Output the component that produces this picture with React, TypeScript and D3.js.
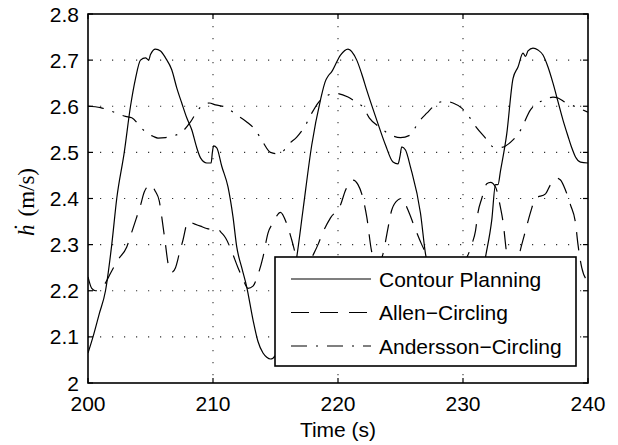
import React from "react";
import * as d3 from "d3";

// ---- data ----
const contourT = [200.0, 200.4, 200.9, 201.4, 201.9, 202.3, 202.9, 203.4, 203.8, 204.2, 204.6, 204.85, 205.0, 205.4, 205.8, 206.2, 206.7, 207.1, 207.5, 207.9, 208.3, 208.7, 209.0, 209.5, 209.85, 209.95, 210.05, 210.3, 210.7, 211.2, 211.6, 211.9, 212.3, 212.7, 213.2, 213.6, 214.0, 214.3, 214.6, 215.0, 215.4, 215.8, 216.3, 216.7, 217.2, 217.9, 218.6, 219.0, 219.2, 219.5, 220.2, 220.8, 221.5, 221.9, 222.3, 223.1, 223.8, 224.4, 224.8, 224.95, 225.1, 225.4, 225.8, 226.6, 227.0, 227.4, 227.8, 228.2, 228.7, 229.2, 229.6, 230.0, 230.4, 230.8, 231.3, 231.8, 232.3, 232.6, 232.8, 233.0, 233.5, 234.0, 234.4, 234.8, 235.0, 235.2, 235.6, 236.0, 236.4, 236.8, 237.2, 237.6, 238.0, 238.4, 238.7, 239.0, 239.4, 240.0];
const contourV = [2.065, 2.10, 2.15, 2.20, 2.30, 2.40, 2.50, 2.60, 2.66, 2.70, 2.705, 2.700, 2.712, 2.724, 2.72, 2.705, 2.679, 2.64, 2.607, 2.575, 2.549, 2.51, 2.488, 2.477, 2.477, 2.50, 2.514, 2.51, 2.47, 2.425, 2.36, 2.295, 2.25, 2.208, 2.137, 2.09, 2.065, 2.056, 2.052, 2.06, 2.09, 2.14, 2.21, 2.273, 2.375, 2.516, 2.614, 2.655, 2.665, 2.675, 2.711, 2.724, 2.70, 2.67, 2.635, 2.57, 2.516, 2.479, 2.475, 2.49, 2.512, 2.505, 2.468, 2.368, 2.28, 2.23, 2.17, 2.11, 2.07, 2.055, 2.052, 2.06, 2.09, 2.14, 2.20, 2.273, 2.353, 2.43, 2.43, 2.46, 2.54, 2.66, 2.685, 2.715, 2.708, 2.72, 2.726, 2.722, 2.711, 2.685, 2.65, 2.61, 2.57, 2.535, 2.51, 2.49, 2.479, 2.477];

const allenT = [200.0, 200.3, 200.6, 201.0, 201.4, 201.8, 202.4, 203.1, 203.5, 203.9, 204.2, 204.5, 205.0, 205.4, 205.7, 205.9, 206.2, 206.4, 206.7, 207.0, 207.3, 207.6, 208.0, 208.5, 209.0, 209.5, 209.9, 210.3, 210.7, 211.0, 211.5, 212.0, 212.4, 212.8, 213.2, 213.6, 214.0, 214.4, 214.8, 215.4, 215.9, 216.3, 216.7, 217.1, 217.5, 218.0, 218.4, 218.8, 219.4, 220.2, 220.6, 221.2, 221.6, 221.9, 222.3, 222.7, 223.2, 223.6, 224.0, 224.3, 224.8, 225.1, 225.6, 226.0, 226.7, 227.1, 227.6, 228.2, 228.8, 229.4, 230.0, 230.7, 231.0, 231.2, 231.5, 231.9, 232.2, 232.6, 233.0, 233.2, 233.5, 233.8, 234.2, 234.7, 235.0, 235.4, 235.8, 236.6, 237.0, 237.5, 237.8, 238.2, 238.6, 239.0, 239.2, 239.5, 240.0];
const allenV = [2.23, 2.205, 2.20, 2.205, 2.217, 2.238, 2.267, 2.295, 2.327, 2.36, 2.385, 2.414, 2.43, 2.415, 2.395, 2.36, 2.30, 2.26, 2.24, 2.25, 2.28, 2.31, 2.35, 2.345, 2.34, 2.335, 2.333, 2.335, 2.325, 2.315, 2.285, 2.25, 2.225, 2.205, 2.21, 2.235, 2.273, 2.325, 2.347, 2.37, 2.345, 2.31, 2.27, 2.245, 2.25, 2.277, 2.30, 2.327, 2.358, 2.386, 2.418, 2.44, 2.43, 2.41, 2.36, 2.284, 2.255, 2.28, 2.336, 2.375, 2.397, 2.40, 2.375, 2.347, 2.30, 2.277, 2.24, 2.215, 2.21, 2.225, 2.255, 2.30, 2.33, 2.37, 2.40, 2.432, 2.435, 2.425, 2.38, 2.35, 2.28, 2.25, 2.255, 2.30, 2.33, 2.37, 2.40, 2.41, 2.43, 2.444, 2.44, 2.418, 2.386, 2.347, 2.30, 2.25, 2.22];

const anderT = [200.0, 201.0, 202.0, 203.0, 203.5, 204.2, 204.7, 205.2, 205.6, 206.2, 206.7, 207.5, 208.2, 208.8, 209.3, 209.7, 210.2, 211.0, 211.9, 212.7, 213.4, 214.0, 214.6, 215.2, 215.7, 216.0, 216.7, 217.4, 217.9, 218.4, 219.2, 219.8, 220.8, 221.4, 222.0, 222.5, 223.4, 224.2, 225.0, 225.8, 226.4, 227.1, 228.0, 228.6, 229.2, 229.9, 230.5, 231.1, 231.8, 232.4, 232.9, 233.4, 234.0, 234.6, 235.4, 236.0, 236.6, 237.2, 237.6, 238.2, 239.1, 240.0];
const anderV = [2.600, 2.597, 2.588, 2.578, 2.575, 2.555, 2.542, 2.535, 2.531, 2.532, 2.535, 2.544, 2.566, 2.592, 2.605, 2.607, 2.603, 2.598, 2.581, 2.566, 2.548, 2.522, 2.50, 2.497, 2.505, 2.516, 2.533, 2.559, 2.585, 2.607, 2.624, 2.628, 2.62, 2.61, 2.598, 2.575, 2.553, 2.538, 2.532, 2.538, 2.564, 2.585, 2.607, 2.611, 2.607, 2.596, 2.577, 2.553, 2.531, 2.512, 2.510, 2.514, 2.527, 2.548, 2.592, 2.607, 2.615, 2.62, 2.618, 2.608, 2.598, 2.587];

const xTicks = [200, 210, 220, 230, 240];
const yTicks = [2, 2.1, 2.2, 2.3, 2.4, 2.5, 2.6, 2.7, 2.8];
const yTickLabels = ["2", "2.1", "2.2", "2.3", "2.4", "2.5", "2.6", "2.7", "2.8"];
const legendLabels = ["Contour Planning", "Allen\u2212Circling", "Andersson\u2212Circling"];

// ---- layout ----
const W = 618, H = 445;
const L = 88, R = 588, T = 14, B = 383;
const FONT = "'Liberation Sans', Arial, Helvetica, sans-serif";
const FS = 21;
const DASHES = [null, "18,11", "16,9,2,9"];

export default function App() {
  const x = d3.scaleLinear().domain([200, 240]).range([L, R]);
  const y = d3.scaleLinear().domain([2, 2.8]).range([B, T]);
  const line = d3
    .line<[number, number]>()
    .x((d) => x(d[0]))
    .y((d) => y(d[1]))
    .curve(d3.curveMonotoneX);

  const series = [
    d3.zip(contourT, contourV) as [number, number][],
    d3.zip(allenT, allenV) as [number, number][],
    d3.zip(anderT, anderV) as [number, number][],
  ];

  const lx = 275, ly = 257, lw = 301, lh = 109;
  const rowY = [279, 312.5, 346];

  return (
    <svg
      width={W}
      height={H}
      style={{ position: "absolute", left: 0, top: 0, background: "#fff" }}
      fontFamily={FONT}
    >
      <rect x={0} y={0} width={W} height={H} fill="#fff" />
      {/* grid */}
      {xTicks.slice(1, -1).map((t) => (
        <line key={"gx" + t} x1={x(t)} x2={x(t)} y1={T} y2={B} stroke="#333" strokeWidth={1.1} strokeDasharray="1.2,10.8" />
      ))}
      {yTicks.slice(1, -1).map((t) => (
        <line key={"gy" + t} x1={L} x2={R} y1={y(t)} y2={y(t)} stroke="#333" strokeWidth={1.1} strokeDasharray="1.2,10.8" />
      ))}
      {/* ticks */}
      {xTicks.map((t) => (
        <g key={"tx" + t}>
          <line x1={x(t)} x2={x(t)} y1={B} y2={B - 5} stroke="#000" strokeWidth={1.2} />
          <line x1={x(t)} x2={x(t)} y1={T} y2={T + 5} stroke="#000" strokeWidth={1.2} />
          <text x={x(t)} y={411} textAnchor="middle" fontSize={FS}>{t}</text>
        </g>
      ))}
      {yTicks.map((t, i) => (
        <g key={"ty" + t}>
          <line x1={L} x2={L + 5} y1={y(t)} y2={y(t)} stroke="#000" strokeWidth={1.2} />
          <line x1={R} x2={R - 5} y1={y(t)} y2={y(t)} stroke="#000" strokeWidth={1.2} />
          <text x={79} y={y(t) + 7.5} textAnchor="end" fontSize={FS}>{yTickLabels[i]}</text>
        </g>
      ))}
      {/* series */}
      <clipPath id="plotclip">
        <rect x={L} y={T} width={R - L} height={B - T} />
      </clipPath>
      <g clipPath="url(#plotclip)">
        {series.map((s, i) => (
          <path key={i} d={line(s) || ""} fill="none" stroke="#000" strokeWidth={1.2} strokeDasharray={DASHES[i] || undefined} />
        ))}
      </g>
      {/* frame */}
      <rect x={L} y={T} width={R - L} height={B - T} fill="none" stroke="#000" strokeWidth={1.6} />
      {/* axis labels */}
      <text x={(L + R) / 2} y={437} textAnchor="middle" fontSize={FS}>Time (s)</text>
      <text
        transform={`translate(34, 202) rotate(-90)`}
        textAnchor="middle"
        fontSize={23}
        fontFamily="'Liberation Serif', 'DejaVu Serif', serif"
      >
        <tspan fontStyle="italic">{"\u1E23"}</tspan>
        <tspan dx={8}>(m/s)</tspan>
      </text>
      {/* legend */}
      <rect x={lx} y={ly} width={lw} height={lh} fill="#fff" stroke="#000" strokeWidth={1.6} />
      {legendLabels.map((lab, i) => (
        <g key={lab}>
          <line x1={291} x2={371} y1={rowY[i]} y2={rowY[i]} stroke="#000" strokeWidth={1.2} strokeDasharray={DASHES[i] || undefined} />
          <text x={379} y={rowY[i] + 7.5} fontSize={FS}>{lab}</text>
        </g>
      ))}
    </svg>
  );
}
